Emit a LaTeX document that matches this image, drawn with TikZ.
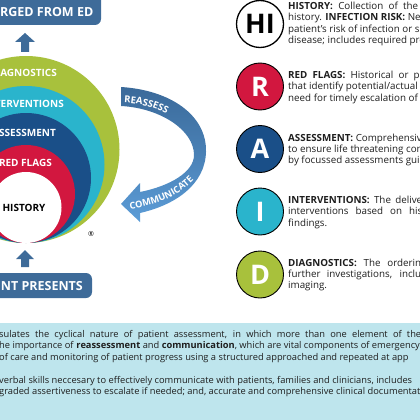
\documentclass[tikz,border=0pt]{standalone}
\usepackage{fontspec}
\setmainfont{Open Sans}
\usetikzlibrary{decorations.text}
\definecolor{steel}{HTML}{3E6B99}
\definecolor{ringG}{HTML}{A8C13C}
\definecolor{ringT}{HTML}{2AB4CC}
\definecolor{ringB}{HTML}{1A4F88}
\definecolor{ringR}{HTML}{D2173F}
\definecolor{panel}{HTML}{BEE5ED}
\definecolor{bandA}{HTML}{3B6A9A}
\definecolor{bandB}{HTML}{5C9DD8}
\definecolor{txt}{HTML}{1E1E1E}
\begin{document}
\begin{tikzpicture}[x=1pt,y=-1pt,
  ring/.style={circle, inner sep=0, draw=none},
  ringlabel/.style={font=\bfseries\fontsize{10}{10}\selectfont, text=white, inner sep=0, anchor=east},
  boxtext/.style={font=\bfseries\fontsize{12.5}{12.5}\selectfont, text=white, inner sep=0, anchor=east},
  letter/.style={circle, draw=black, line width=0.9, minimum size=47, inner sep=0, font=\bfseries\fontsize{27}{27}\selectfont, text=white},
  body/.style={font=\fontsize{9.8}{9.8}\selectfont, text=txt, inner sep=0, anchor=base west},
  pbody/.style={font=\fontsize{9.3}{9.3}\selectfont, text=txt, inner sep=0, anchor=base west},
]
\useasboundingbox (0,0) rectangle (420,420);
\clip (0,0) rectangle (420,420);
% bottom panel
\fill[panel] (0,323) rectangle (420,420);
% top and bottom boxes
\fill[steel, rounded corners=6] (-30,-10) rectangle (101,25);
\node[boxtext] (topt) at (93.5,12.5) {RGED FROM ED};
\fill[steel, rounded corners=6] (-30,273) rectangle (92,298);
\node[boxtext] (bott) at (83,286) {NT PRESENTS};
% block arrows
\fill[steel] (21,52) -- (21,42) -- (15,42) -- (25,33) -- (35,42) -- (29,42) -- (29,52) -- cycle;
\fill[steel] (21,267) -- (21,259) -- (16,259) -- (25,250) -- (34,259) -- (29,259) -- (29,267) -- cycle;
% nested rings
\node[ring, fill=ringG, minimum size=187] (rd) at (26,149.5) {};
\node[ring, fill=ringT, minimum size=157] (ri) at (26,164.5) {};
\node[ring, fill=ringB, minimum size=130] (ra) at (26,178) {};
\node[ring, fill=ringR, minimum size=98] (rr) at (26,194) {};
\node[ring, fill=white, minimum size=71] (rh) at (26,207.5) {};
\node[ringlabel] (ld) at (57,73) {IAGNOSTICS};
\node[ringlabel] (li) at (64,104) {TERVENTIONS};
\node[ringlabel] (la) at (56,133) {SSESSMENT};
\node[ringlabel] (lr) at (52,163) {RED FLAGS};
\node[ringlabel, text=black, anchor=center] (lh) at (24,208) {HISTORY};
\node[inner sep=0, font=\fontsize{7}{7}\selectfont] (reg) at (91,234) {®};
% reassess / communicate band
\shade[top color=bandA, bottom color=bandB, middle color=bandA!55!bandB]
  (121,87) .. controls (170,90) and (207,115) .. (206,152)
  .. controls (205,185) and (175,205) .. (140,213)
  -- (140,222) -- (121,204) -- (140,183) -- (140,192)
  .. controls (170,186) and (194,172) .. (194,155)
  .. controls (194,130) and (160,108) .. (121,106) -- cycle;
\path[decorate, decoration={text along path, text color=white,
  text={|\bfseries\fontsize{9.5}{9.5}\selectfont|REASSESS}, text align=left}]
  (124,103) .. controls (145,104) and (162,109) .. (185,125);
\path[decorate, decoration={text along path, text color=white,
  text={|\bfseries\fontsize{9.3}{9.3}\selectfont|COMMUNICATE}, text align=left}]
  (130,209) .. controls (158,205) and (184,195) .. (202,170);
% letter circles
\node[letter, fill=white, text=black, line width=1.3] (chi) at (260,24) {HI};
\node[letter, fill=ringR] (cr) at (260,86.5) {R};
\node[letter, fill=ringB] (ca) at (260,149) {A};
\node[letter, fill=ringT] (ci) at (260,211.5) {I};
\node[letter, fill=ringG] (cd) at (260,274.5) {D};
% right texts
\node[body] (t1a) at (288,9.5) {\makebox[130pt][s]{\textbf{HISTORY:} Collection of the}};
\node[body] (t1b) at (288,21) {history. \textbf{INFECTION RISK:} Ne};
\node[body] (t1c) at (288,32.5) {patient's risk of infection or su};
\node[body] (t1d) at (288,44) {disease; includes required prec};
\node[body] (t2a) at (288,78.5) {\makebox[134pt][s]{\textbf{RED FLAGS:} Historical or pl}};
\node[body] (t2b) at (288,89.5) {that identify potential/actual t};
\node[body] (t2c) at (288,101) {need for timely escalation of c};
\node[body] (t3a) at (288,141.8) {\textbf{ASSESSMENT:} Comprehensiv};
\node[body] (t3b) at (288,152.8) {to ensure life threatening con};
\node[body] (t3c) at (288,163.5) {by focussed assessments guid};
\node[body] (t4a) at (288,203.5) {\makebox[134pt][s]{\textbf{INTERVENTIONS:} The delive}};
\node[body] (t4b) at (288,214.5) {\makebox[134pt][s]{interventions based on his}};
\node[body] (t4c) at (288,226.2) {findings.};
\node[body] (t5a) at (288,266.8) {\makebox[133pt][s]{\textbf{DIAGNOSTICS:} The orderin}};
\node[body] (t5b) at (288,277.5) {\makebox[133pt][s]{further investigations, inclu}};
\node[body] (t5c) at (288,288.5) {imaging.};
% panel text
\node[pbody] (p1) at (-1,337) {\makebox[422pt][s]{sulates the cyclical nature of patient assessment, in which more than one element of the}};
\node[pbody] (p2) at (-1,348.5) {he importance of \textbf{reassessment} and \textbf{communication}, which are vital components of emergency};
\node[pbody] (p3) at (-1,360) {of care and monitoring of patient progress using a structured approached and repeated at app};
\node[pbody] (p4) at (-1,383) {verbal skills neccesary to effectively communicate with patients, families and clinicians, includes};
\node[pbody] (p5) at (-1,394.5) {graded assertiveness to escalate if needed; and, accurate and comprehensive clinical documentat};
\end{tikzpicture}
\end{document}
